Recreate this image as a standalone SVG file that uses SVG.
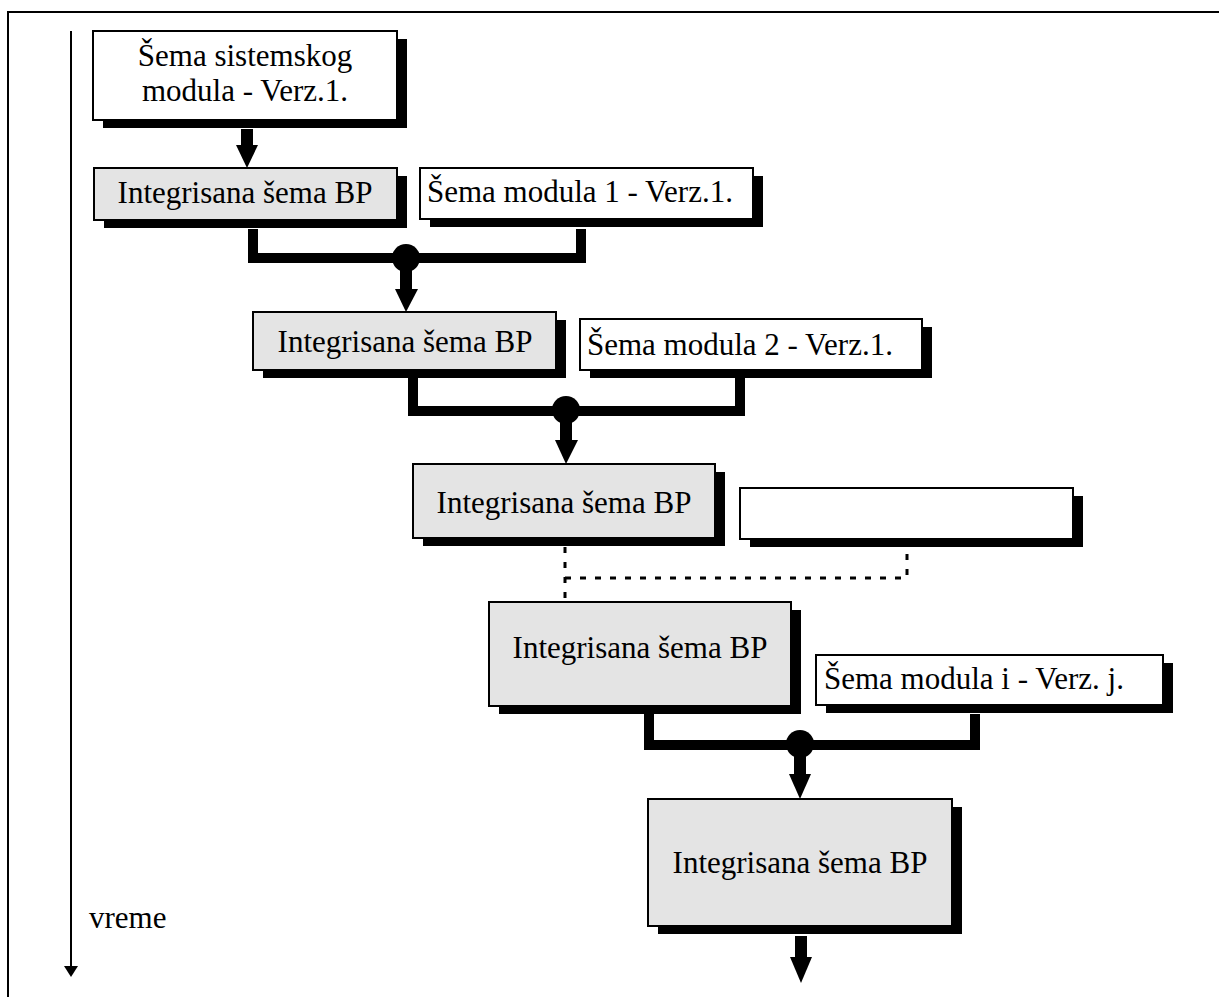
<svg xmlns="http://www.w3.org/2000/svg" width="1219" height="997" viewBox="0 0 1219 997">
<style>
.sh{fill:#000}
.bw{fill:#fff;stroke:#000;stroke-width:2}
.bg{fill:#e4e4e4;stroke:#000;stroke-width:2}
text{font-family:"Liberation Serif","Times New Roman",serif;font-size:31px;fill:#000}
.c{text-anchor:middle}
.con{fill:none;stroke:#000;stroke-width:10;stroke-linejoin:miter;stroke-linecap:butt}
.dot{fill:none;stroke:#000;stroke-width:3;stroke-dasharray:6 9}
</style>
<rect x="8" y="12" width="1220" height="1000" fill="none" stroke="#000" stroke-width="2"/>
<g id="time-axis">
<line x1="71" y1="31" x2="71" y2="967" stroke="#000" stroke-width="2"/>
<polygon points="64,966 78,966 71,977" fill="#000"/>
<text x="89" y="928">vreme</text>
</g>
<g id="connectors">
<rect x="241" y="129" width="12" height="16"/>
<polygon points="236,145 258,145 247,168"/>
<path class="con" d="M253,229 V258 H581 V229"/>
<circle cx="406" cy="258" r="14"/>
<rect x="400" y="270" width="12" height="19"/>
<polygon points="395,289 418,289 406,312"/>
<path class="con" d="M413,378 V411 H740 V378"/>
<circle cx="566" cy="410" r="14"/>
<rect x="560" y="422" width="12" height="18"/>
<polygon points="555,440 578,440 566,464"/>
<path class="dot" d="M565,547 V602 M565,578 H907 V547"/>
<path class="con" d="M649,714 V745 H975 V714"/>
<circle cx="800" cy="744" r="14"/>
<rect x="794" y="756" width="12" height="18"/>
<polygon points="789,774 811,774 800,799"/>
<rect x="795" y="936" width="12" height="21"/>
<polygon points="790,957 812,957 801,983"/>
</g>
<g id="n1">
<rect class="sh" x="103" y="39" width="304" height="89"/>
<rect class="bw" x="93" y="31" width="304" height="89"/>
<text class="c" x="245" y="66">Šema sistemskog</text>
<text class="c" x="245" y="101">modula - Verz.1.</text>
</g>
<g id="n2">
<rect class="sh" x="104" y="176" width="303" height="52"/>
<rect class="bg" x="94" y="168" width="303" height="52"/>
<text class="c" x="245" y="203">Integrisana šema BP</text>
</g>
<g id="n3">
<rect class="sh" x="430" y="176" width="333" height="51"/>
<rect class="bw" x="420" y="168" width="333" height="51"/>
<text x="427" y="202">Šema modula 1 - Verz.1.</text>
</g>
<g id="n4">
<rect class="sh" x="263" y="320" width="303" height="58"/>
<rect class="bg" x="253" y="312" width="303" height="58"/>
<text class="c" x="405" y="352">Integrisana šema BP</text>
</g>
<g id="n5">
<rect class="sh" x="590" y="327" width="342" height="51"/>
<rect class="bw" x="580" y="319" width="342" height="51"/>
<text x="587" y="355">Šema modula 2 - Verz.1.</text>
</g>
<g id="n6">
<rect class="sh" x="423" y="472" width="302" height="74"/>
<rect class="bg" x="413" y="464" width="302" height="74"/>
<text class="c" x="564" y="513">Integrisana šema BP</text>
</g>
<g id="n7">
<rect class="sh" x="750" y="496" width="333" height="51"/>
<rect class="bw" x="740" y="488" width="333" height="51"/>
</g>
<g id="n8">
<rect class="sh" x="499" y="610" width="302" height="104"/>
<rect class="bg" x="489" y="602" width="302" height="104"/>
<text class="c" x="640" y="658">Integrisana šema BP</text>
</g>
<g id="n9">
<rect class="sh" x="826" y="663" width="347" height="50"/>
<rect class="bw" x="816" y="655" width="347" height="50"/>
<text x="824" y="689">Šema modula i - Verz. j.</text>
</g>
<g id="n10">
<rect class="sh" x="658" y="807" width="304" height="127"/>
<rect class="bg" x="648" y="799" width="304" height="127"/>
<text class="c" x="800" y="873">Integrisana šema BP</text>
</g>
</svg>
